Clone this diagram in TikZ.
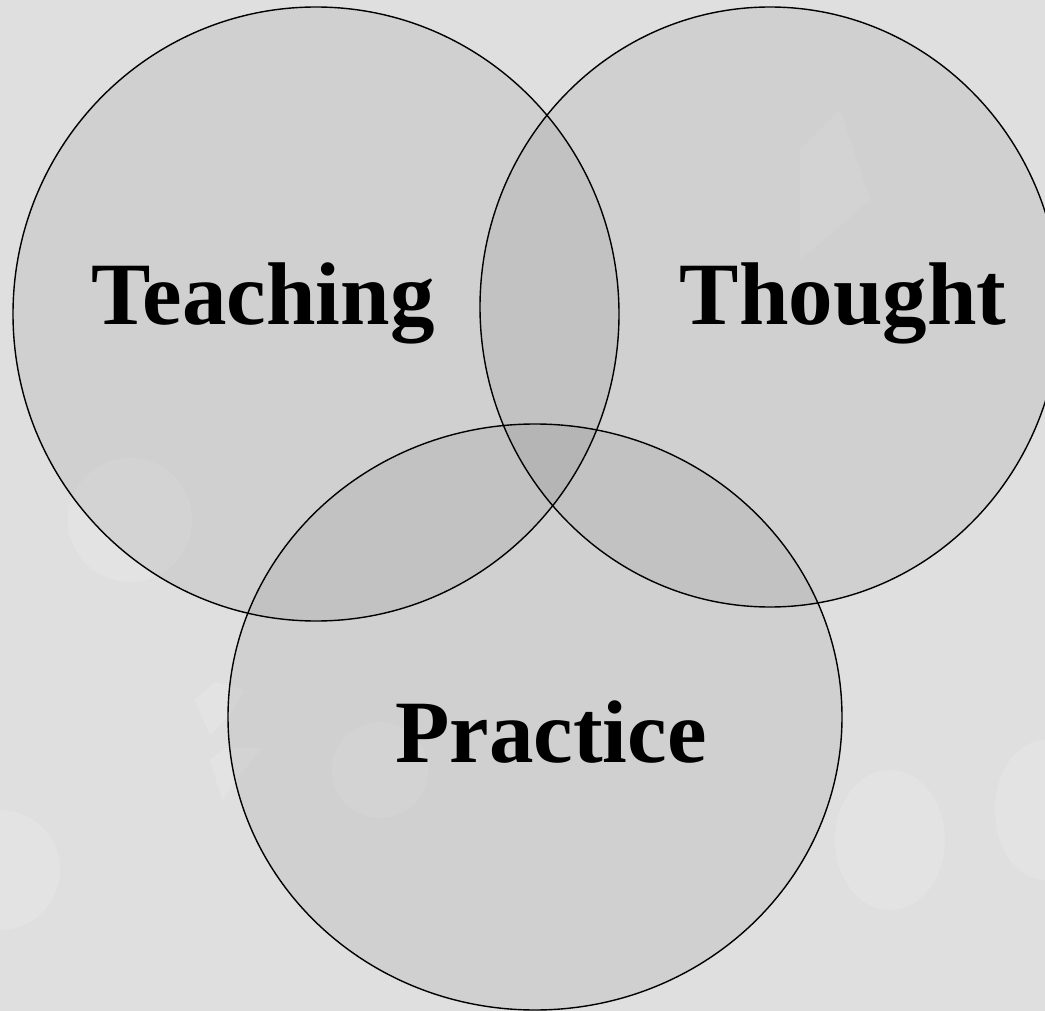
\documentclass[tikz,border=0pt]{standalone}
\usepackage{fontspec}
\setmainfont{Liberation Serif}
\begin{document}
\begin{tikzpicture}[x=1pt,y=-1pt,
  venn/.style={draw=black,line width=1.4pt,fill=black,fill opacity=0.065},
  blob/.style={fill=white,opacity=0.14,draw=none},
  lbl/.style={anchor=base,font=\fontsize{89}{89}\selectfont\bfseries,inner sep=0pt}]
\fill[fill={rgb,255:red,223;green,223;blue,223}] (0,0) rectangle (1045,1011);
\useasboundingbox (0,0) rectangle (1045,1011);
% faint background decoration
\fill[blob] (0,870) circle (60);
\fill[blob] (890,840) ellipse (55 and 70);
\fill[blob] (1045,810) ellipse (50 and 70);
\fill[blob] (380,770) circle (48);
\fill[blob] (130,520) circle (62);
\fill[blob] (195,700) -- (215,682) -- (245,690) -- (232,712) -- (210,735) -- cycle;
\fill[blob] (210,760) -- (225,748) -- (262,748) -- (240,775) -- (222,800) -- cycle;
\fill[blob] (800,150) -- (840,110) -- (870,200) -- (800,260) -- cycle;
% circles (bottom one first)
\draw[venn] (535,717) ellipse (307 and 293) coordinate (c3);
\draw[venn] (770,307) ellipse (290 and 300) coordinate (c2);
\draw[venn] (316,314) ellipse (303 and 307) coordinate (c1);
% labels
\node[lbl] (teach) at (263,325) {Teaching};
\node[lbl] (thought) at (843,325) {Thought};
\node[lbl] (practice) at (551,762) {Practice};
\end{tikzpicture}
\end{document}
